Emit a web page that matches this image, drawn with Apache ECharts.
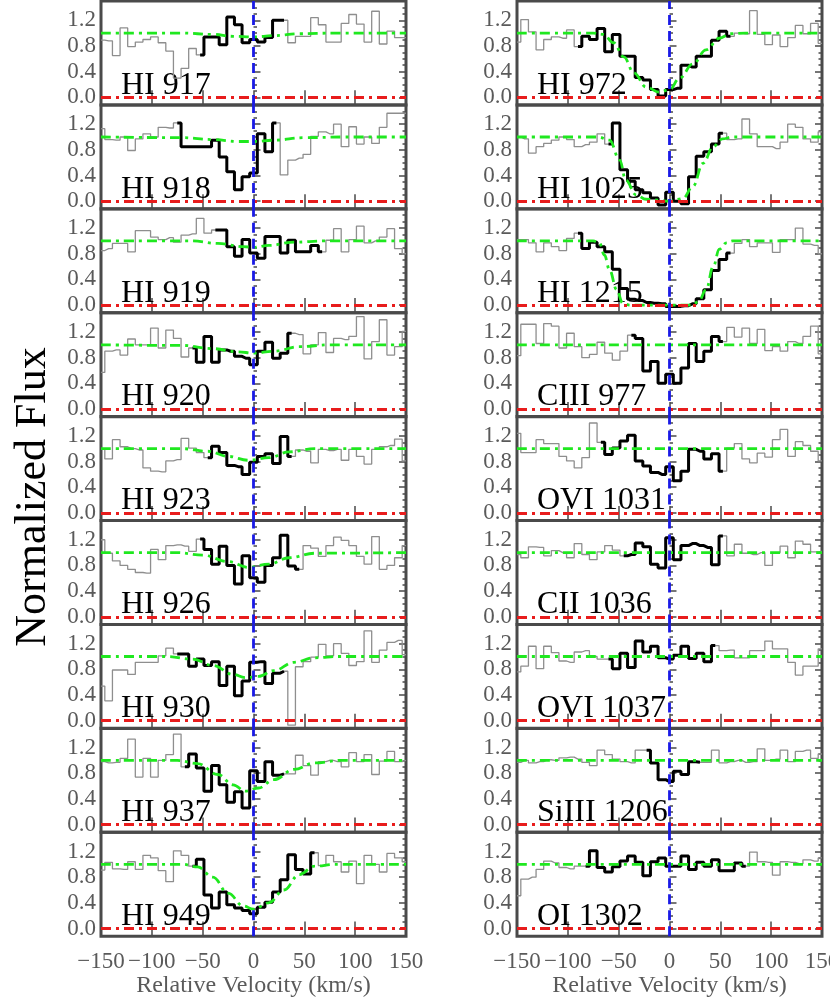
<!DOCTYPE html>
<html>
<head>
<meta charset="utf-8">
<script src="https://cdn.jsdelivr.net/npm/echarts@6.0.0/dist/echarts.min.js"></script>
<style>
  html, body { margin: 0; padding: 0; background: #fff; }
  #main { width: 830px; height: 997px; }
</style>
</head>
<body>
<div id="main"></div>
<script>
// bin centres (km/s)
const velocity = [-150, -142.5, -135, -127.5, -120, -112.5, -105, -97.5, -90, -82.5, -75, -67.5, -60, -52.5, -45, -37.5, -30, -22.5, -15, -7.5,
  0, 7.5, 15, 22.5, 30, 37.5, 45, 52.5, 60, 67.5, 75, 82.5, 90, 97.5, 105, 112.5, 120, 127.5, 135, 142.5, 150];

const panelNames = ['HI 917', 'HI 918', 'HI 919', 'HI 920', 'HI 923', 'HI 926', 'HI 930', 'HI 937', 'HI 949',
  'HI 972', 'HI 1025', 'HI 1215', 'CIII 977', 'OVI 1031', 'CII 1036', 'OVI 1037', 'SiIII 1206', 'OI 1302'];

// normalized flux per bin
const fluxHI917 = [0.89,0.88,0.65,1.08,0.79,0.86,0.90,0.94,0.85,0.72,0.30,0.45,0.76,0.66,0.94,0.94,0.82,1.25,1.13,0.85,0.90,0.86,0.93,1.20,1.20,0.85,0.95,0.95,1.24,1.13,0.86,0.86,1.15,1.29,1.14,0.86,1.34,0.83,1.03,0.93,0.93];
const fluxHI918 = [1.13,0.96,0.95,1.00,0.79,0.97,1.05,1.00,1.15,1.14,1.22,0.85,0.85,0.85,0.85,0.95,0.69,0.46,0.18,0.38,0.44,1.05,0.77,1.22,0.41,0.64,0.67,0.73,1.01,1.08,1.05,1.20,0.85,1.16,0.89,1.00,0.90,1.15,1.37,1.37,1.37];
const fluxHI919 = [0.85,0.88,0.96,0.96,0.83,1.16,1.16,1.06,1.02,1.05,0.98,1.09,1.11,1.35,1.12,1.17,1.17,0.91,0.76,1.02,0.81,0.73,1.07,1.07,0.81,1.01,0.83,0.83,0.93,0.83,1.01,1.19,0.83,1.02,1.23,0.97,1.00,1.06,1.19,0.88,0.80];
const fluxHI920 = [0.57,0.90,0.92,0.84,1.09,1.00,1.00,1.26,0.95,1.23,1.10,0.81,0.95,0.73,1.13,0.73,0.92,0.90,0.82,0.79,0.69,0.90,1.04,0.79,0.87,1.18,1.16,0.86,1.00,1.19,0.88,1.10,1.08,1.13,1.44,0.78,1.05,1.39,0.84,0.97,1.21];
const fluxHI923 = [0.99,0.84,1.14,1.03,1.00,0.98,0.70,0.65,0.64,0.81,0.83,1.16,1.01,0.94,0.86,1.04,0.94,0.74,0.72,0.60,0.79,0.88,0.92,0.77,1.19,0.88,0.98,0.96,0.78,0.99,0.97,0.99,0.82,0.99,0.88,0.76,0.99,1.03,1.05,1.15,0.81];
const fluxHI926 = [1.20,0.99,0.87,0.80,0.74,0.69,0.68,1.05,0.89,1.11,1.12,1.10,1.02,1.21,1.05,0.82,1.10,0.80,0.51,0.95,0.61,0.54,0.80,0.92,1.27,0.79,0.74,1.11,1.07,0.94,1.11,1.24,1.19,1.11,0.94,0.82,1.25,0.74,0.80,0.92,1.11];
const fluxHI930 = [0.54,0.31,0.79,0.79,0.72,0.91,0.91,0.91,1.01,1.13,1.04,1.04,0.85,0.96,0.86,0.92,0.55,0.85,0.39,0.62,0.91,0.92,0.58,0.74,0.77,-0.07,0.84,0.92,0.99,1.19,1.01,1.20,1.05,0.86,0.92,1.40,0.91,1.10,1.22,1.25,1.03];
const fluxHI937 = [0.98,0.96,0.97,1.03,1.33,0.74,1.03,0.74,1.00,1.09,1.41,0.90,1.10,0.88,0.52,0.92,0.62,0.35,0.51,0.26,0.84,0.67,0.98,0.77,0.79,0.79,1.08,0.92,0.77,0.98,1.00,0.98,0.90,1.12,0.98,1.09,0.78,0.99,1.14,0.98,1.00];
const fluxHI949 = [0.91,1.03,0.93,0.92,1.04,0.92,1.14,1.10,0.90,0.73,1.21,1.14,0.97,1.08,0.52,0.32,0.57,0.37,0.32,0.28,0.23,0.33,0.41,0.57,0.76,1.15,0.92,0.85,1.18,0.98,1.14,1.04,0.88,1.05,0.70,1.14,1.00,0.88,1.17,1.10,1.04];
const fluxHI972 = [0.86,1.21,1.02,0.74,0.90,0.94,0.92,1.05,0.79,0.95,0.90,1.07,0.71,0.98,0.64,0.64,0.31,0.27,0.12,0.02,0.12,0.14,0.50,0.47,0.64,0.64,0.89,1.03,0.95,1.00,0.99,1.35,0.98,0.82,0.97,0.79,0.93,1.12,0.99,1.15,0.84];
const fluxHI1025 = [1.00,0.97,0.75,0.85,0.90,0.95,1.00,0.96,0.85,0.88,0.92,1.05,0.89,1.22,0.49,0.31,0.18,0.13,0.05,-0.06,0.14,0.00,-0.04,0.38,0.70,0.77,0.89,1.06,0.96,0.97,1.28,1.05,0.85,0.85,0.82,0.92,1.20,1.15,0.97,0.92,1.08];
const fluxHI1215 = [1.02,1.02,0.97,0.83,0.97,0.91,0.85,1.04,1.12,0.88,0.98,0.91,0.83,0.56,0.26,0.09,0.07,0.04,0.03,0.02,-0.02,-0.02,-0.01,0.02,0.10,0.24,0.54,0.71,0.81,0.96,1.02,0.91,0.97,0.97,0.82,1.02,1.02,1.20,0.95,0.93,0.80];
const fluxCIII977 = [0.83,1.32,1.32,1.02,1.33,1.29,0.95,1.18,0.97,0.80,0.85,1.04,0.87,0.76,0.90,1.15,1.10,0.59,0.74,0.40,0.54,0.40,0.64,1.02,0.74,0.90,1.13,1.05,1.27,1.12,1.26,1.02,1.24,0.91,0.97,0.90,1.05,1.02,1.13,1.29,0.86];
const fluxOVI1031 = [1.24,0.94,0.94,1.14,1.08,1.08,0.88,0.81,0.70,0.86,1.40,1.10,0.91,1.01,1.12,1.21,0.81,0.73,0.63,0.60,0.72,0.50,0.65,0.99,0.96,0.84,0.92,0.65,1.01,1.08,0.84,0.78,0.93,0.87,1.14,1.30,0.88,1.11,1.05,0.96,0.81];
const fluxCII1036 = [0.97,0.92,1.09,1.08,0.95,1.03,1.00,0.92,1.14,0.97,0.89,1.01,1.11,1.04,0.95,0.97,1.15,1.09,0.82,0.76,1.23,0.89,1.11,1.14,1.11,1.08,0.81,1.26,0.95,1.13,0.99,0.97,1.00,0.80,1.00,1.10,0.92,1.18,1.13,1.01,1.02];
const fluxOVI1037 = [0.76,0.85,1.16,0.81,1.16,1.06,0.93,0.91,1.07,1.09,1.00,0.96,0.96,0.81,1.05,0.83,1.24,1.07,1.16,0.98,0.96,1.02,1.16,0.97,1.05,0.92,1.17,1.09,1.10,0.98,0.98,1.09,1.09,1.24,1.12,1.12,0.91,0.71,0.85,0.85,1.12];
const fluxSiIII1206 = [0.97,1.00,0.96,0.98,1.01,1.00,1.04,1.05,1.02,0.97,0.92,1.16,1.09,1.02,0.98,0.96,1.16,1.16,0.96,0.70,0.67,0.83,0.78,0.98,0.97,0.97,1.16,0.96,0.98,1.00,0.97,0.98,1.18,1.00,1.02,1.16,0.98,1.14,1.16,1.03,1.10];
const fluxOI1302 = [0.51,0.77,0.80,0.92,1.05,1.02,0.95,0.93,0.97,0.97,1.21,0.95,0.88,0.96,1.05,1.13,1.03,0.82,1.04,1.10,0.97,0.97,1.13,0.92,1.03,0.97,1.07,0.90,0.90,1.02,0.97,1.19,1.04,1.03,0.83,1.04,1.03,1.01,1.07,1.05,1.10];

const fluxes = [fluxHI917, fluxHI918, fluxHI919, fluxHI920, fluxHI923, fluxHI926, fluxHI930, fluxHI937, fluxHI949,
  fluxHI972, fluxHI1025, fluxHI1215, fluxCIII977, fluxOVI1031, fluxCII1036, fluxOVI1037, fluxSiIII1206, fluxOI1302];

// first / last bin of the highlighted (fitted) region
const fitRanges = [[13,24],[10,23],[15,29],[12,25],[14,25],[13,26],[10,24],[11,24],[12,28],
  [8,28],[12,27],[8,28],[15,27],[11,27],[14,27],[12,26],[17,24],[9,30]];

// model profiles [velocity, flux]
const flat = [[-150,1],[150,1]];
const modelHI917 = [[-150,1],[-70,1],[-40,0.98],[-20,0.95],[0,0.94],[20,0.96],[45,0.99],[80,1],[150,1]];
const modelHI918 = [[-150,1],[-70,0.99],[-40,0.96],[-15,0.93],[0,0.93],[20,0.95],[50,0.99],[90,1],[150,1]];
const modelHI919 = [[-150,1],[-60,1],[-35,0.96],[-10,0.91],[0,0.9],[15,0.93],[40,0.98],[70,1],[150,1]];
const modelHI920 = [[-150,1],[-70,0.99],[-40,0.94],[-15,0.89],[0,0.87],[20,0.9],[45,0.97],[75,1],[150,1]];
const modelHI923 = [[-150,1],[-70,1],[-45,0.96],[-25,0.88],[-5,0.82],[15,0.86],[35,0.95],[60,1],[150,1]];
const modelHI926 = [[-150,1],[-75,1],[-50,0.96],[-25,0.86],[-5,0.77],[15,0.82],[35,0.92],[60,0.99],[150,1]];
const modelHI930 = [[-150,1],[-85,1],[-60,0.96],[-40,0.86],[-20,0.72],[-8,0.67],[5,0.69],[20,0.78],[40,0.91],[60,0.98],[85,1],[150,1]];
const modelHI937 = [[-150,1],[-75,1],[-55,0.95],[-35,0.78],[-20,0.62],[-8,0.52],[5,0.57],[20,0.7],[40,0.86],[60,0.96],[85,1],[150,1]];
const modelHI949 = [[-150,1],[-70,1],[-55,0.96],[-40,0.8],[-25,0.55],[-10,0.35],[0,0.3],[15,0.4],[30,0.6],[45,0.84],[60,0.97],[80,1],[150,1]];
const modelHI972 = [[-150,1],[-75,1],[-65,0.98],[-55,0.85],[-45,0.63],[-35,0.38],[-23,0.16],[-10,0.08],[0,0.12],[10,0.3],[23,0.52],[36,0.74],[49,0.92],[60,0.99],[75,1],[150,1]];
const modelHI1025 = [[-150,1],[-70,1],[-59,0.95],[-49,0.64],[-43,0.33],[-33,0.1],[-23,0.03],[0,0],[13,0.04],[23,0.23],[33,0.59],[43,0.85],[52,0.97],[62,1],[150,1]];
const modelHI1215 = [[-150,1],[-75,1],[-69,0.97],[-64,0.78],[-59,0.55],[-52,0.24],[-46,0.03],[-39,0],[23,0],[29,0.07],[36,0.24],[43,0.6],[49,0.87],[56,0.97],[62,1],[150,1]];

const models = [modelHI917, modelHI918, modelHI919, modelHI920, modelHI923, modelHI926, modelHI930, modelHI937, modelHI949,
  modelHI972, modelHI1025, modelHI1215, flat, flat, flat, flat, flat, flat];

const yTicks = [0, 0.4, 0.8, 1.2];
const yMinorTicks = [0.1, 0.2, 0.3, 0.5, 0.6, 0.7, 0.9, 1.0, 1.1, 1.3, 1.4];

// layout
const colLeft = [101, 517];
const colWidth = 305;
const rowTop = 1, rowPitch = 103.9, rowHeight = 104;
const yMin = -0.12, yMax = 1.5;
const frameColor = '#4a4a4a';
const labelColor = '#5a5a5a';
const serif = 'Liberation Serif';
const dashDot = [10, 5, 3, 5];

var grids = [], xAxes = [], yAxes = [], series = [], graphics = [];

panelNames.forEach(function (name, p) {
  var col = p < 9 ? 0 : 1;
  var row = p % 9;
  var top = rowTop + row * rowPitch;
  var bottomRow = row === 8;

  grids.push({
    left: colLeft[col], top: top, width: colWidth, height: rowHeight,
    outerBoundsMode: 'none', containLabel: false,
    show: true, borderColor: frameColor, borderWidth: 3, backgroundColor: 'transparent'
  });

  var tickStyle = { color: frameColor, width: 1.5 };
  xAxes.push({
    gridIndex: p, type: 'value', min: -150, max: 150, interval: 50, position: 'bottom',
    axisLine: { show: false },
    axisTick: { inside: true, length: 7, lineStyle: tickStyle },
    axisLabel: {
      show: bottomRow, color: labelColor, fontFamily: serif, fontSize: 23, margin: 14,
      formatter: function (v) { return v < 0 ? '\u2212' + Math.abs(v) : String(v); }
    },
    splitLine: { show: false },
    name: bottomRow ? 'Relative Velocity (km/s)' : '',
    nameLocation: 'middle', nameGap: 37,
    nameTextStyle: { color: labelColor, fontFamily: serif, fontSize: 24 }
  });
  xAxes.push({
    gridIndex: p, type: 'value', min: -150, max: 150, interval: 50, position: 'top',
    axisLine: { show: false },
    axisTick: { inside: true, length: 7, lineStyle: tickStyle },
    axisLabel: { show: false }, splitLine: { show: false }
  });

  ['left', 'right'].forEach(function (side) {
    yAxes.push({
      gridIndex: p, type: 'value', min: yMin, max: yMax, position: side,
      axisLine: { show: false },
      axisTick: { inside: true, length: 7, customValues: yTicks, lineStyle: tickStyle },
      axisLabel: {
        show: side === 'left', customValues: yTicks, color: labelColor,
        fontFamily: serif, fontSize: 23, margin: 5,
        formatter: function (v) { return v.toFixed(1); }
      },
      splitLine: { show: false }
    });
    yAxes.push({
      gridIndex: p, type: 'value', min: yMin, max: yMax, position: side,
      axisLine: { show: false },
      axisTick: { inside: true, length: 3.5, customValues: yMinorTicks, lineStyle: tickStyle },
      axisLabel: { show: false }, splitLine: { show: false }
    });
  });

  var flux = fluxes[p];
  var pts = velocity.map(function (v, i) { return [v, flux[i]]; });
  var fr = fitRanges[p];

  series.push({
    type: 'line', xAxisIndex: 2 * p, yAxisIndex: 4 * p, data: pts,
    step: 'middle', symbol: 'none', silent: true, z: 2,
    lineStyle: { color: '#8e8e8e', width: 1.3 }
  });
  series.push({
    type: 'line', xAxisIndex: 2 * p, yAxisIndex: 4 * p, data: pts.slice(fr[0], fr[1] + 1),
    step: 'middle', symbol: 'none', silent: true, z: 3,
    lineStyle: { color: '#000', width: 3 }
  });
  series.push({
    type: 'line', xAxisIndex: 2 * p, yAxisIndex: 4 * p, data: models[p],
    smooth: 0.4, smoothMonotone: 'x', symbol: 'none', silent: true, z: 4,
    lineStyle: { color: '#1fe81f', width: 2.8, type: dashDot },
    markLine: {
      silent: true, symbol: ['none', 'none'], label: { show: false }, animation: false,
      data: [
        { yAxis: 0, lineStyle: { color: '#e81c1c', width: 2.8, type: dashDot } },
        { xAxis: 0, lineStyle: { color: '#1a1ae6', width: 2.8, type: [10, 6] } }
      ]
    }
  });

  var zeroY = top + rowHeight * yMax / (yMax - yMin);
  graphics.push({
    type: 'text', z: 1,
    x: colLeft[col] + 20, y: zeroY + 4,
    style: { text: name, font: '32px "Liberation Serif"', fill: '#000', textAlign: 'left', textVerticalAlign: 'bottom' }
  });
});

graphics.push({
  type: 'text', x: 33, y: 497, rotation: Math.PI / 2, z: 1,
  style: { text: 'Normalized Flux', font: '44px "Liberation Serif"', fill: '#000', textAlign: 'center', textVerticalAlign: 'middle' }
});

var chart = echarts.init(document.getElementById('main'), null, { renderer: 'canvas' });
chart.setOption({
  animation: false,
  backgroundColor: '#fff',
  grid: grids,
  xAxis: xAxes,
  yAxis: yAxes,
  series: series,
  graphic: graphics
});
</script>
</body>
</html>
